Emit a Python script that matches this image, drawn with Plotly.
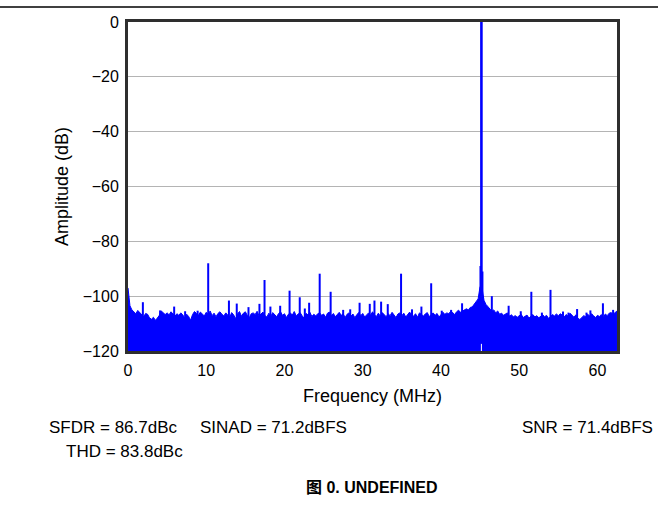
import plotly.graph_objects as go

# ---------------- data ----------------
freq_step = 0.25  # MHz grid of the noise-floor readings
noise_floor_db = [
    -97.0, -103.5, -105.0, -105.8,
    -106.4, -105.2, -106.0, -106.8,
    -107.5, -106.3, -106.6, -107.9,
    -108.4, -107.7, -108.8, -108.0,
    -107.0, -105.4, -106.0, -106.7,
    -106.1, -106.8, -105.7, -106.5,
    -107.3, -106.4, -107.0, -106.1,
    -106.8, -108.1, -106.6, -107.4,
    -108.8, -106.7, -105.6, -106.3,
    -107.0, -105.8, -106.5, -107.2,
    -105.9, -106.7, -105.4, -107.1,
    -106.2, -107.5, -106.3, -105.7,
    -106.6, -107.2, -106.1, -106.9,
    -107.7, -106.0, -106.8, -108.2,
    -106.5, -105.6, -107.3, -106.2,
    -105.7, -107.0, -107.9, -106.4,
    -106.1, -106.7, -105.5, -107.2,
    -106.6, -105.8, -107.1, -107.6,
    -106.2, -107.4, -106.0, -106.8,
    -107.5, -106.3, -105.7, -107.0,
    -106.4, -107.8, -106.6, -106.1,
    -106.9, -105.6, -107.2, -106.5,
    -106.0, -107.1, -108.0, -106.3,
    -106.8, -105.9, -107.4, -106.6,
    -107.2, -106.4, -106.1, -107.0,
    -106.5, -107.7, -106.2, -105.8,
    -107.1, -106.3, -107.5, -106.7,
    -105.9, -107.0, -106.4, -107.8,
    -106.6, -106.1, -107.3, -106.5,
    -107.9, -106.7, -106.0, -107.1,
    -106.3, -107.6, -106.8, -106.1,
    -107.0, -105.7, -106.9, -107.4,
    -106.2, -107.3, -106.0, -106.8,
    -107.5, -106.4, -107.1, -105.9,
    -106.7, -107.8, -106.5, -106.1,
    -107.1, -106.2, -107.6, -106.6,
    -105.8, -106.9, -107.3, -106.4,
    -107.7, -106.1, -106.8, -107.2,
    -106.5, -106.0, -107.4, -106.7,
    -106.1, -107.0, -106.3, -107.6,
    -106.8, -105.9, -106.6, -106.1,
    -106.4, -105.5, -106.0, -106.7,
    -105.7, -105.1, -105.9, -105.4,
    -105.2, -104.6, -105.0, -104.1,
    -103.9, -103.0, -102.0, -101.0,
    -96.5, -97.0, -101.5, -103.0,
    -103.8, -104.8, -105.5, -105.0,
    -106.1, -105.4, -106.6, -106.2,
    -107.0, -106.5, -106.1, -107.3,
    -106.8, -107.5, -107.1, -107.7,
    -107.2, -106.6, -107.8, -107.4,
    -106.9, -108.0, -107.3, -106.7,
    -107.6, -107.1, -107.9, -107.2,
    -106.8, -107.5, -107.0, -108.1,
    -107.4, -106.7, -107.2, -106.5,
    -107.1, -106.4, -106.9, -107.6,
    -106.7, -107.3, -106.2, -107.0,
    -107.7, -106.8, -108.1, -108.5,
    -107.9, -107.1, -107.5, -106.6,
    -107.2, -106.4, -107.1, -107.8,
    -107.0, -107.4, -106.7, -107.9,
    -106.5, -107.1, -106.2, -106.0,
    -106.6, -105.9, -105.4,
]
noise_freq_mhz = [i * freq_step for i in range(len(noise_floor_db))]

spur_freq_mhz = [1.9, 4.1, 5.9, 7.3, 8.9, 10.25, 12.9, 13.9, 15.4, 16.8, 17.45,
                 18.2, 19.45, 20.65, 21.95, 22.6, 23.15, 24.5, 25.9, 27.5, 28.4,
                 29.6, 30.9, 31.5, 32.35, 33.2, 34.9, 36.3, 37.5, 38.75, 40.1,
                 41.3, 42.7, 44.0, 45.05, 45.3, 46.5, 48.65, 50.2, 51.55, 52.9,
                 54.0, 55.6, 56.3, 57.4, 58.6, 59.1, 60.7, 62.0]
spur_db = [-102.2, -105.2, -103.8, -105.5, -105.3, -88.0, -101.6, -102.7, -104.0,
           -102.8, -94.1, -103.8, -103.5, -98.0, -100.4, -104.5, -102.4, -91.8,
           -98.4, -105.0, -104.8, -102.4, -102.8, -101.6, -102.0, -102.9, -91.8,
           -104.8, -103.8, -95.3, -105.3, -105.0, -102.6, -104.5, -89.0, -91.0,
           -100.0, -103.5, -105.5, -98.4, -106.0, -97.7, -105.6, -106.0, -104.7,
           -106.0, -105.2, -102.6, -105.0]

fundamental_freq_mhz = 45.17
fundamental_db = 0.0

x_ticks = [0, 10, 20, 30, 40, 50, 60]
y_ticks = [0, -20, -40, -60, -80, -100, -120]
x_range = [0, 62.5]
y_range = [-120, 0]

metrics = ["SFDR = 86.7dBc", "SINAD = 71.2dBFS", "SNR = 71.4dBFS", "THD = 83.8dBc"]
caption = "图 0. UNDEFINED"

# ---------------- figure ----------------
BLUE = "#0000ff"
FONT = "Liberation Sans, Arial, sans-serif"

fig = go.Figure()

# baseline for the filled noise floor
fig.add_trace(go.Scatter(x=noise_freq_mhz, y=[y_range[0]] * len(noise_freq_mhz),
                         mode="lines", line=dict(width=0, color=BLUE),
                         hoverinfo="skip", showlegend=False))
fig.add_trace(go.Scatter(x=noise_freq_mhz, y=noise_floor_db, mode="lines",
                         line=dict(width=1, color=BLUE), fill="tonexty",
                         fillcolor=BLUE, showlegend=False))

# spurs as vertical lines
sx, sy = [], []
for f, a in zip(spur_freq_mhz, spur_db):
    sx += [f, f, None]
    sy += [y_range[0], a, None]
fig.add_trace(go.Scatter(x=sx, y=sy, mode="lines", line=dict(width=2, color=BLUE),
                         showlegend=False))

# fundamental
fig.add_trace(go.Scatter(x=[fundamental_freq_mhz, fundamental_freq_mhz],
                         y=[y_range[0], fundamental_db], mode="lines",
                         line=dict(width=2.6, color=BLUE), showlegend=False))
# small white notch at the base of the fundamental
fig.add_trace(go.Scatter(x=[fundamental_freq_mhz, fundamental_freq_mhz],
                         y=[y_range[0], y_range[0] + 2.6], mode="lines",
                         line=dict(width=1, color="white"), showlegend=False))

W, H = 658, 516
L, R, T, B = 128, 41, 22, 165
pw, ph = W - L - R, H - T - B


def px(xp):  # screen pixel -> paper x
    return (xp - L) / pw


def py(yp):  # screen pixel -> paper y
    return (H - B - yp) / ph


fig.update_layout(
    width=W, height=H,
    margin=dict(l=L, r=R, t=T, b=B, autoexpand=False),
    paper_bgcolor="white", plot_bgcolor="white",
    font=dict(family=FONT, size=16, color="#000000"),
    showlegend=False,
    xaxis=dict(range=x_range, tickvals=x_ticks, showgrid=False, zeroline=False,
               showline=True, mirror=True, linecolor="#2e2e2e", linewidth=3,
               ticks="", ticklabelstandoff=3,
               tickfont=dict(size=16),
               title=dict(text="Frequency (MHz)", font=dict(size=18), standoff=12)),
    yaxis=dict(range=y_range, tickvals=y_ticks, showgrid=True,
               gridcolor="#b4b4b4", gridwidth=1, zeroline=False,
               showline=True, mirror=True, linecolor="#2e2e2e", linewidth=3,
               ticks="", ticklabelstandoff=3,
               tickfont=dict(size=16),
               title=dict(text="Amplitude (dB)", font=dict(size=18), standoff=10)),
)

# top rule across the page
fig.add_shape(type="line", xref="paper", yref="paper", x0=px(-20), x1=px(700),
              y0=py(7), y1=py(7), line=dict(color="black", width=1.5))

ann_style = dict(xref="paper", yref="paper", showarrow=False,
                 font=dict(family=FONT, size=17, color="#000000"))
fig.add_annotation(text=metrics[0], x=px(47), y=py(427), xanchor="left", yanchor="middle", **ann_style)
fig.add_annotation(text=metrics[1], x=px(198), y=py(427), xanchor="left", yanchor="middle", **ann_style)
fig.add_annotation(text=metrics[2], x=px(655), y=py(427), xanchor="right", yanchor="middle", **ann_style)
fig.add_annotation(text=metrics[3], x=px(64), y=py(451), xanchor="left", yanchor="middle", **ann_style)
fig.add_annotation(text="<b>" + caption + "</b>", x=px(372), y=py(487),
                   xanchor="center", yanchor="middle", xref="paper", yref="paper",
                   showarrow=False,
                   font=dict(family="Liberation Sans, Noto Sans CJK SC, Arial, sans-serif",
                             size=16, color="#000000"))

# remove the default page margin so the figure sits at the window's corner
fig.write_html("out.html",
               config={"displayModeBar": False},
               post_script="document.body.style.margin='0';"
                           "document.body.style.overflow='hidden';")
